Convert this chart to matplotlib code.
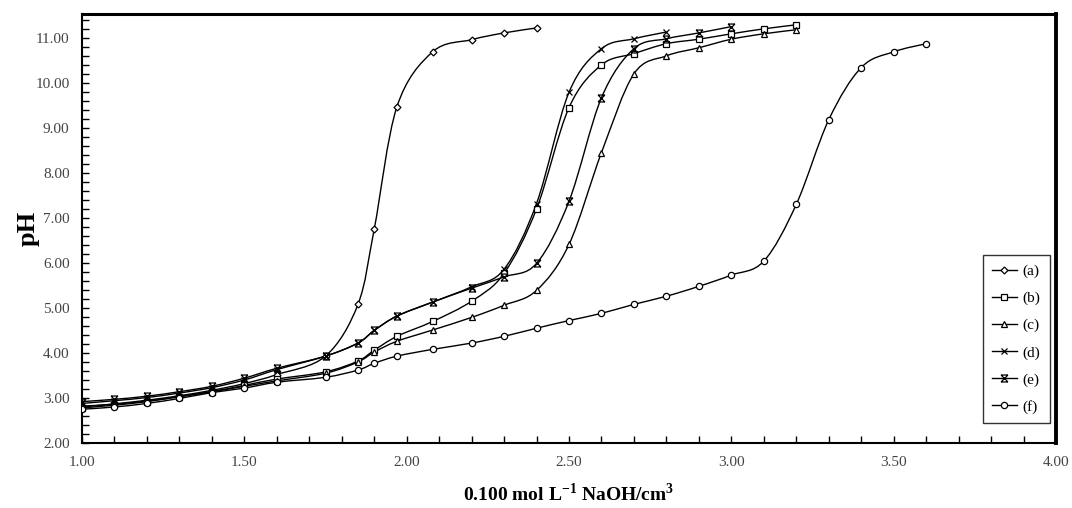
import numpy as np
import matplotlib
matplotlib.use("Agg")
import matplotlib.pyplot as plt
from matplotlib.path import Path
from matplotlib.patches import PathPatch
from matplotlib.lines import Line2D
from matplotlib.ticker import MultipleLocator, FormatStrFormatter

plt.rcParams['font.family'] = ['Liberation Serif', 'DejaVu Serif']
plt.rcParams['mathtext.fontset'] = 'custom'
plt.rcParams['mathtext.rm'] = 'Liberation Serif'
plt.rcParams['mathtext.bf'] = 'Liberation Serif:bold'

# titration curves, volume of NaOH (cm3) vs pH
x_a = [1.00, 1.10, 1.20, 1.30, 1.40, 1.50, 1.60, 1.75, 1.85, 1.90, 1.97, 2.08, 2.20, 2.30, 2.40]
y_a = [2.80, 2.87, 2.95, 3.05, 3.17, 3.32, 3.52, 3.93, 5.08, 6.75, 9.47, 10.69, 10.96, 11.11, 11.22]

x_b = [1.00, 1.10, 1.20, 1.30, 1.40, 1.50, 1.60, 1.75, 1.85, 1.90, 1.97, 2.08, 2.20, 2.30, 2.40,
       2.50, 2.60, 2.70, 2.80, 2.90, 3.00, 3.10, 3.20]
y_b = [2.78, 2.84, 2.92, 3.03, 3.14, 3.28, 3.42, 3.58, 3.82, 4.06, 4.37, 4.70, 5.15, 5.77, 7.20,
       9.45, 10.40, 10.65, 10.87, 10.97, 11.09, 11.20, 11.29]

x_c = [1.00, 1.10, 1.20, 1.30, 1.40, 1.50, 1.60, 1.75, 1.85, 1.90, 1.97, 2.08, 2.20, 2.30, 2.40,
       2.50, 2.60, 2.70, 2.80, 2.90, 3.00, 3.10, 3.20]
y_c = [2.82, 2.86, 2.93, 3.03, 3.14, 3.26, 3.38, 3.55, 3.80, 4.02, 4.26, 4.51, 4.79, 5.06, 5.39,
       6.41, 8.45, 10.20, 10.60, 10.78, 10.97, 11.09, 11.18]

x_d = [1.00, 1.10, 1.20, 1.30, 1.40, 1.50, 1.60, 1.75, 1.85, 1.90, 1.97, 2.08, 2.20, 2.30, 2.40,
       2.50, 2.60, 2.70, 2.80]
y_d = [2.88, 2.94, 3.01, 3.11, 3.23, 3.40, 3.63, 3.93, 4.22, 4.50, 4.82, 5.13, 5.47, 5.86, 7.32,
       9.79, 10.76, 10.98, 11.13]

x_e = [1.00, 1.10, 1.20, 1.30, 1.40, 1.50, 1.60, 1.75, 1.85, 1.90, 1.97, 2.08, 2.20, 2.30, 2.40,
       2.50, 2.60, 2.70, 2.80, 2.90, 3.00]
y_e = [2.92, 2.97, 3.04, 3.14, 3.26, 3.44, 3.66, 3.93, 4.22, 4.50, 4.82, 5.13, 5.44, 5.69, 5.99,
       7.37, 9.67, 10.76, 10.98, 11.11, 11.25]

x_f = [1.00, 1.10, 1.20, 1.30, 1.40, 1.50, 1.60, 1.75, 1.85, 1.90, 1.97, 2.08, 2.20, 2.30, 2.40,
       2.50, 2.60, 2.70, 2.80, 2.90, 3.00, 3.10, 3.20, 3.30, 3.40, 3.50, 3.60]
y_f = [2.75, 2.80, 2.88, 2.99, 3.12, 3.22, 3.35, 3.46, 3.62, 3.77, 3.93, 4.08, 4.22, 4.37, 4.55,
       4.72, 4.88, 5.08, 5.26, 5.48, 5.73, 6.04, 7.30, 9.18, 10.34, 10.69, 10.87]

labels = ['(a)', '(b)', '(c)', '(d)', '(e)', '(f)']
y_ticks = [2, 3, 4, 5, 6, 7, 8, 9, 10, 11]

# x with bars on top and bottom for series (e)
bowtie = Path([(-1, 1), (1, -1), (-1, -1), (1, 1), (-1, 1), (1, 1), (-1, -1), (1, -1),
               (-0.45, 0), (0.45, 0)],
              [Path.MOVETO, Path.LINETO, Path.MOVETO, Path.LINETO, Path.MOVETO, Path.LINETO,
               Path.MOVETO, Path.LINETO, Path.MOVETO, Path.LINETO])

markers = ['D', 's', '^', 'x', bowtie, 'o']
msizes = [3.5, 4.5, 4.5, 5, 5, 4.5]


def smooth_path(xs, ys):
    # catmull-rom style bezier through the measured points
    p = np.column_stack([xs, ys])
    verts = [p[0]]
    codes = [Path.MOVETO]
    n = len(p)
    for i in range(n - 1):
        p0 = p[i - 1] if i > 0 else p[i]
        p1 = p[i]
        p2 = p[i + 1]
        p3 = p[i + 2] if i + 2 < n else p[i + 1]
        c1 = p1 + (p2 - p0) / 6.0
        c2 = p2 - (p3 - p1) / 6.0
        verts += [c1, c2, p2]
        codes += [Path.CURVE4] * 3
    return Path(verts, codes)


fig = plt.figure(figsize=(10.72, 5.08), dpi=100)
ax = fig.add_axes([82 / 1072, 65 / 508, 974 / 1072, 429 / 508])

series = [(x_a, y_a), (x_b, y_b), (x_c, y_c), (x_d, y_d), (x_e, y_e), (x_f, y_f)]
handles = []
for (xs, ys), lab, m, ms in zip(series, labels, markers, msizes):
    ax.add_patch(PathPatch(smooth_path(xs, ys), facecolor='none', edgecolor='black',
                           lw=1.0, zorder=2))
    fc = 'none' if m is bowtie else 'white'
    ax.plot(xs, ys, linestyle='none', marker=m, ms=ms, mfc=fc, mec='black',
            mew=0.9, zorder=3)
    handles.append(Line2D([0], [0], color='black', lw=1.0, marker=m, ms=ms,
                          mfc=fc, mec='black', mew=0.9, label=lab))

ax.set_xlim(1.0, 4.0)
ax.set_ylim(2.0, 11.53)
ax.xaxis.set_major_locator(MultipleLocator(0.5))
ax.xaxis.set_minor_locator(MultipleLocator(0.1))
ax.xaxis.set_major_formatter(FormatStrFormatter('%.2f'))
ax.set_yticks(y_ticks)
ax.yaxis.set_minor_locator(MultipleLocator(0.2))
ax.yaxis.set_major_formatter(FormatStrFormatter('%.2f'))

ax.tick_params(which='both', direction='in', length=5, width=1, colors='black',
               labelcolor='#444444', labelsize=11, top=False, right=False)
ax.tick_params(axis='x', pad=9)
ax.tick_params(axis='y', pad=9)

for side in ['left', 'bottom']:
    ax.spines[side].set_linewidth(1.5)
ax.spines['top'].set_linewidth(2.2)
ax.spines['right'].set_linewidth(2.8)

ax.set_ylabel('pH', fontsize=19, fontweight='bold', labelpad=-3)
ax.set_xlabel(r'0.100 mol L$^{\mathbf{-1}}$ NaOH/cm$^{\mathbf{3}}$', fontsize=14,
              fontweight='bold', labelpad=10)

leg = ax.legend(handles=handles, loc='upper left', bbox_to_anchor=(0.925, 0.438),
                fontsize=11, frameon=True, fancybox=False, edgecolor='black',
                handlelength=1.6, handletextpad=0.4, labelspacing=0.87,
                borderpad=0.6, borderaxespad=0)
leg.get_frame().set_linewidth(1.0)

fig.savefig('out.png', dpi=100)
